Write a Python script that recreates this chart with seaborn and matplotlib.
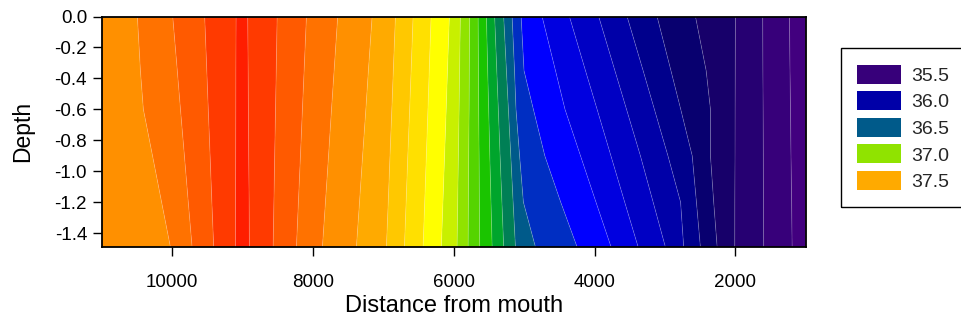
import numpy as np
import matplotlib
matplotlib.use("Agg")
import matplotlib.pyplot as plt
from matplotlib.patches import Patch, Rectangle
import seaborn as sns

# Depth of each digitised row of the section (m below surface)
depths = [0.0, -0.35, -0.6, -0.9, -1.2, -1.49]

# Salinity carried by each column: left edge, isohalines rising to the
# salinity maximum, the maximum itself, isohalines falling towards the mouth,
# right edge
column_salinity = [37.6, 37.65, 37.75, 37.85, 37.95, 38.0, 37.95, 37.85, 37.75,
                   37.65, 37.55, 37.45, 37.35, 37.25, 37.15, 37.05, 36.95, 36.85,
                   36.75, 36.65, 36.55, 36.45, 36.35, 36.25, 36.15, 36.05, 35.95,
                   35.85, 35.75, 35.65, 35.55, 35.45, 35.4]

# Distance from mouth of each column, one list per depth row
dist_000 = [11000, 10493, 9991, 9537, 9091, 9009, 8926, 8508, 8092, 7648, 7159,
            6828, 6577, 6321, 6061, 5905, 5773, 5653, 5535, 5418, 5290, 5170,
            5042, 4744, 4356, 3940, 3537, 3111, 2566, 1998, 1611, 1231, 1000]
dist_035 = [11000, 10450, 9926, 9507, 9094, 9007, 8920, 8521, 8125, 7699, 7212,
            6858, 6605, 6348, 6088, 5916, 5778, 5648, 5517, 5388, 5251, 5136,
            5001, 4554, 4128, 3710, 3309, 2914, 2414, 2001, 1608, 1223, 1000]
dist_060 = [11000, 10408, 9881, 9486, 9095, 9005, 8916, 8531, 8149, 7736, 7248,
            6879, 6626, 6366, 6106, 5923, 5781, 5645, 5503, 5366, 5223, 5115,
            4868, 4419, 3963, 3545, 3149, 2775, 2353, 2003, 1605, 1216, 1000]
dist_090 = [11000, 10278, 9825, 9460, 9097, 9004, 8912, 8543, 8177, 7778, 7294,
            6905, 6652, 6389, 6129, 5933, 5787, 5639, 5487, 5341, 5189, 5064,
            4706, 4199, 3767, 3348, 2957, 2612, 2353, 2004, 1602, 1209, 1000]
dist_120 = [11000, 10149, 9770, 9435, 9099, 9002, 8906, 8554, 8206, 7822, 7338,
            6930, 6676, 6412, 6152, 5943, 5791, 5635, 5470, 5315, 5156, 5010,
            4480, 3979, 3571, 3167, 2777, 2552, 2307, 2007, 1600, 1200, 1000]
dist_149 = [11000, 10024, 9716, 9409, 9101, 9001, 8902, 8565, 8234, 7865, 7382,
            6956, 6700, 6435, 6175, 5952, 5795, 5631, 5454, 5290, 5123, 4839,
            4247, 3764, 3380, 2993, 2733, 2496, 2258, 2008, 1597, 1193, 1000]

# Contour levels: bands 0.1 wide centred on 35.4 ... 38.0
levels = np.arange(3535, 3806, 10) / 100.0
band_hex = ["#42007F", "#37007A", "#260072", "#17006A", "#08006F", "#00008C",
            "#0000A8", "#0000C4", "#0000E0", "#0000FF", "#002EC2", "#005A8A",
            "#007F55", "#00A52C", "#1AC400", "#55D400", "#90E300", "#C8F000",
            "#FFFF00", "#FFE000", "#FFC800", "#FFAA00", "#FF9000", "#FF7200",
            "#FF5A00", "#FF3A00", "#FF1E00"]

legend_values = [35.5, 36.0, 36.5, 37.0, 37.5]
legend_labels = ["35.5", "36.0", "36.5", "37.0", "37.5"]

x_ticks = [10000, 8000, 6000, 4000, 2000]
y_ticks = [0.0, -0.2, -0.4, -0.6, -0.8, -1.0, -1.2, -1.4]

sns.set_theme(style="ticks")
plt.rcParams["font.family"] = ["Liberation Sans", "DejaVu Sans"]
plt.rcParams["axes.unicode_minus"] = False

band_colors = sns.color_palette(band_hex)

X = np.array([dist_000, dist_035, dist_060, dist_090, dist_120, dist_149], dtype=float)
Y = np.repeat(np.array(depths)[:, None], X.shape[1], axis=1)
Z = np.tile(np.array(column_salinity), (X.shape[0], 1))

W, H = 962, 322
fig = plt.figure(figsize=(W / 100, H / 100), dpi=100)
ax = fig.add_axes([101.7 / W, 1 - 247 / H, (805.7 - 101.7) / W, (247 - 16.5) / H])

ax.contourf(X, Y, Z, levels=levels, colors=band_colors, antialiased=True)
ax.contour(X, Y, Z, levels=levels, colors="white", linewidths=0.6, alpha=0.22)

ax.set_xlim(11000, 1000)
ax.set_ylim(-1.49, 0)
ax.set_xticks(x_ticks)
ax.set_xticklabels([str(v) for v in x_ticks])
ax.set_yticks(y_ticks)
ax.set_yticklabels([f"{v:.1f}" if v != 0 else "0.0" for v in y_ticks])

ax.tick_params(axis="both", direction="out", length=6.5, width=1.0, color="black",
               labelsize=13.5, labelcolor="black", pad=4)
ax.tick_params(axis="x", pad=13)
for s in ax.spines.values():
    s.set_linewidth(1.3)
    s.set_color("black")

ax.set_xlabel("Distance from mouth", fontsize=17, color="black", labelpad=3)
ax.set_ylabel("Depth", fontsize=16.5, color="black", labelpad=15)

centers = (levels[:-1] + levels[1:]) / 2
handles = []
for v in legend_values:
    idx = int(np.argmin(np.abs(centers - v)))
    handles.append(Patch(facecolor=band_colors[idx], edgecolor="none"))
fig.legend(handles, legend_labels, loc="upper left",
           bbox_to_anchor=(840.7 / W, 1 - 48.3 / H), frameon=False,
           fontsize=14, handlelength=2.27, handleheight=1.13, labelspacing=0.33,
           borderpad=0.85, handletextpad=0.5, borderaxespad=0)

# Legend box running off the right-hand edge of the figure
fig.add_artist(Rectangle((840.7 / W, 1 - 206.7 / H), 130 / W, (206.7 - 48.3) / H,
                         transform=fig.transFigure, facecolor="none",
                         edgecolor="black", linewidth=1.0))

fig.savefig("out.png", dpi=100)
